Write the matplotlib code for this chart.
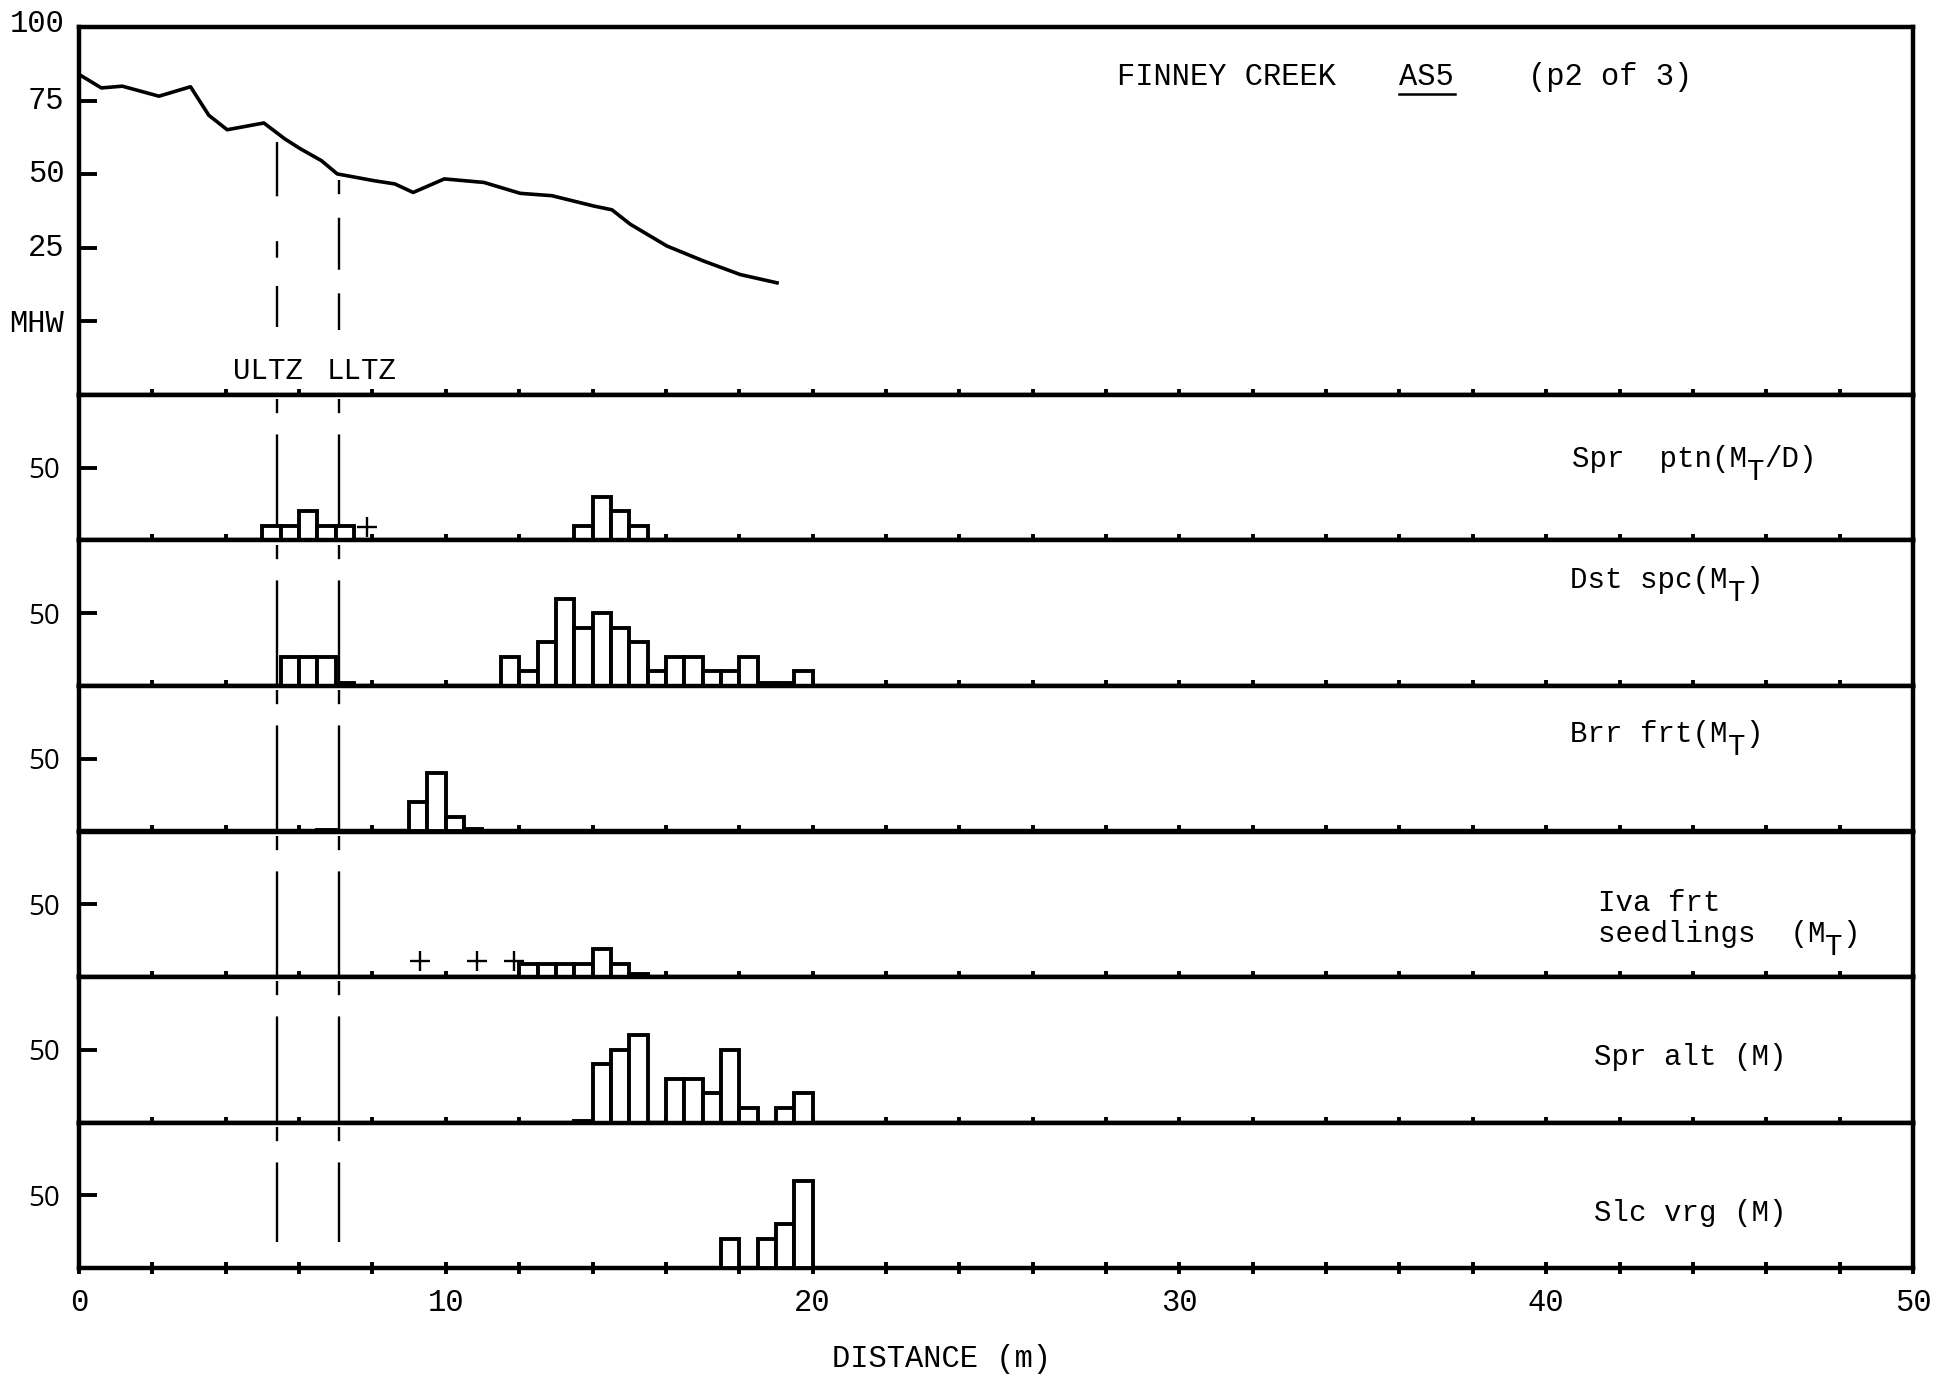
import matplotlib.pyplot as plt
from matplotlib.transforms import offset_copy
import numpy as np

plt.rcParams['font.family'] = ['Liberation Mono', 'DejaVu Sans Mono']

# elevation profile (m along transect, height above MHW)
prof_dist = [0.04, 0.61, 1.18, 2.18, 3.04, 3.54, 4.04, 5.04, 5.61, 6.04, 6.61, 7.04,
             8.04, 8.61, 9.11, 9.96, 11.04, 12.03, 12.89, 14.03, 14.53, 15.03,
             16.03, 17.03, 18.03, 19.03]
prof_elev = [83.6, 79.3, 79.9, 76.5, 79.7, 70.0, 65.1, 67.4, 62.0, 58.6, 54.6, 50.1,
             47.8, 46.7, 43.8, 48.4, 47.2, 43.5, 42.7, 39.2, 37.9, 33.0,
             25.6, 20.5, 15.9, 13.1]
elev_ticks = [0, 25, 50, 75]
elev_labels = ['MHW', '25', '50', '75', '100']
elev_label_y = [-1, 25, 50, 75, 101]

ultz = 5.4
lltz = 7.1

# cover per 0.5 m bin (left edge of bin, value)
spr_ptn_x = [5.0, 5.5, 6.0, 6.5, 7.0, 13.5, 14.0, 14.5, 15.0]
spr_ptn_h = [10, 10, 20, 10, 10, 10, 30, 20, 10]
spr_ptn_plus_x = [7.85]
spr_ptn_plus_y = [9]

dst_spc_x = [5.5, 6.0, 6.5, 7.0, 11.5, 12.0, 12.5, 13.0, 13.5, 14.0, 14.5, 15.0,
             15.5, 16.0, 16.5, 17.0, 17.5, 18.0, 18.5, 19.0, 19.5]
dst_spc_h = [20, 20, 20, 2, 20, 10, 30, 60, 40, 50, 40, 30,
             10, 20, 20, 10, 10, 20, 2, 2, 10]

brr_frt_x = [6.5, 9.0, 9.5, 10.0, 10.5]
brr_frt_h = [1, 20, 40, 10, 2]

iva_frt_x = [12.0, 12.5, 13.0, 13.5, 14.0, 14.5, 15.0]
iva_frt_h = [9, 9, 9, 9, 19, 9, 2]
iva_frt_plus_x = [9.3, 10.85, 11.85]
iva_frt_plus_y = [11, 11, 11]

spr_alt_x = [13.5, 14.0, 14.5, 15.0, 16.0, 16.5, 17.0, 17.5, 18.0, 19.0, 19.5]
spr_alt_h = [1, 40, 50, 60, 30, 30, 20, 50, 10, 10, 20]

slc_vrg_x = [17.5, 18.5, 19.0, 19.5]
slc_vrg_h = [20, 20, 30, 60]

# '^' marks where a lowered T (subscript) goes
species = [['Spr  ptn(M^/D)'], ['Dst spc(M^)'], ['Brr frt(M^)'],
           ['Iva frt', 'seedlings  (M^)'], ['Spr alt (M)'], ['Slc vrg (M)']]
bar_x = [spr_ptn_x, dst_spc_x, brr_frt_x, iva_frt_x, spr_alt_x, slc_vrg_x]
bar_h = [spr_ptn_h, dst_spc_h, brr_frt_h, iva_frt_h, spr_alt_h, slc_vrg_h]
plus_x = [spr_ptn_plus_x, [], [], iva_frt_plus_x, [], []]
plus_y = [spr_ptn_plus_y, [], [], iva_frt_plus_y, [], []]

# layout in pixels
W, H = 1942, 1380
left, right = 79, 1913
edges = [27, 395, 540.5, 686, 831.5, 977, 1122.5, 1268]
label_pos = [(40.7, 56), (40.65, 73), (40.65, 67), (41.4, 51), (41.3, 45), (41.3, 38)]
line_bottom = [0, 0, 0, 0, 0, 18]
FS = 21

fig = plt.figure(figsize=(W / 100, H / 100), dpi=100)


def rect(y0, y1):
    return [left / W, 1 - y1 / H, (right - left) / W, (y1 - y0) / H]


def style(ax):
    for s in ax.spines.values():
        s.set_linewidth(3.2)
    ax.set_xlim(0, 50)
    ax.set_xticks(np.arange(0, 51, 2))
    ax.tick_params(axis='x', direction='inout', length=9, width=2.8,
                   labelbottom=False)


def at_col(ax, col, dy=0):
    # offset by whole character cells of the monospaced font
    return offset_copy(ax.transData, fig=fig, x=col * 0.6 * FS, y=dy, units='points')


def sub_label(ax, x, y, line):
    k = line.find('^')
    if k < 0:
        ax.text(x, y, line, ha='left', va='center', fontsize=FS)
        return
    ax.text(x, y, line[:k], ha='left', va='center', fontsize=FS)
    ax.text(x, y, 'T', ha='left', va='center', fontsize=FS,
            transform=at_col(ax, k, -0.45 * FS))
    ax.text(x, y, line[k + 1:], ha='left', va='center', fontsize=FS,
            transform=at_col(ax, k + 1))


# top panel: elevation profile
ax0 = fig.add_axes(rect(edges[0], edges[1]))
style(ax0)
ax0.plot(prof_dist, prof_elev, color='k', lw=2.6)
ax0.set_ylim(-25, 100)
ax0.set_yticks(elev_ticks)
ax0.set_yticklabels([])
ax0.tick_params(axis='y', direction='in', length=13, width=2.8)
for lab, yy in zip(elev_labels, elev_label_y):
    ax0.text(-0.4, yy, lab, ha='right', va='center', fontsize=22, clip_on=False)
ax0.plot([ultz, ultz], [61, -2], color='k', lw=1.7, ls=(0, (23, 19, 7, 12, 200, 10)))
ax0.plot([lltz, lltz], [48, -3], color='k', lw=1.7, ls=(0, (6, 10, 22, 10, 200, 10)))
ax0.text(5.15, -17, 'ULTZ', ha='center', va='center', fontsize=FS)
ax0.text(7.7, -17, 'LLTZ', ha='center', va='center', fontsize=FS)

# title
ax0.text(28.3, 83, 'FINNEY CREEK', ha='left', va='center', fontsize=22)
ax0.text(36.0, 83, 'AS5', ha='left', va='center', fontsize=22)
ax0.plot([36.0, 37.5], [77.3, 77.3], color='k', lw=1.8)
ax0.text(39.5, 83, '(p2 of 3)', ha='left', va='center', fontsize=22)

# species panels
for i in range(6):
    ax = fig.add_axes(rect(edges[i + 1], edges[i + 2]), sharex=ax0)
    style(ax)
    ax.set_ylim(0, 100)
    ax.bar(bar_x[i], bar_h[i], width=0.5, align='edge', color='white',
           edgecolor='k', linewidth=2.8, zorder=3)
    if plus_x[i]:
        ax.plot(plus_x[i], plus_y[i], '+', color='k', ms=14, mew=1.7)
    ax.set_yticks([50])
    ax.set_yticklabels(['50'], family='Open Sans', fontsize=20)
    ax.tick_params(axis='y', direction='in', length=13, width=2.8, pad=14)
    ax.plot([ultz, ultz], [97, line_bottom[i]], color='k', lw=1.7,
            ls=(0, (6, 9, 90, 6)), zorder=2)
    ax.plot([lltz, lltz], [97, line_bottom[i]], color='k', lw=1.7,
            ls=(0, (6, 9, 90, 6)), zorder=2)
    lx, ly = label_pos[i]
    for j, line in enumerate(species[i]):
        sub_label(ax, lx, ly - j * 21.5, line)
    if i == 5:
        ax.tick_params(axis='x', labelbottom=True, labelsize=22, pad=10)
        ax.set_xticklabels([str(v) if v % 10 == 0 else '' for v in range(0, 51, 2)])

fig.text(941 / W, 1 - 1359 / H, 'DISTANCE (m)', ha='center', va='center', fontsize=22)

plt.savefig('out.png', dpi=100)
